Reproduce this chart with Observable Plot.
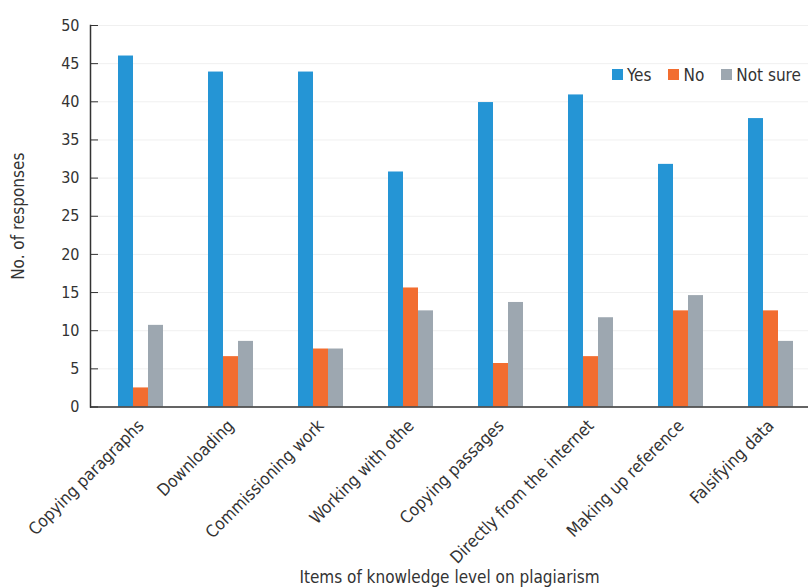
<!DOCTYPE html>
<html>
<head>
<meta charset="utf-8">
<script src="https://cdn.jsdelivr.net/npm/d3@7"></script>
<script src="https://cdn.jsdelivr.net/npm/@observablehq/plot@0.6"></script>
<style>
  html, body { margin: 0; padding: 0; background: #fff; }
  #wrap { position: relative; width: 810px; height: 588px; }
  #legend { position: absolute; left: 612px; top: 58px; width: 230px; white-space: nowrap; }
  #legend span > svg { margin-right: 4px !important; }
  .ff { font-family: "Liberation Sans Narrow", "DejaVu Sans Condensed", Roboto, sans-serif; }
</style>
</head>
<body>
<div id="wrap" class="ff"></div>
<script>
const categories = ["Copying paragraphs", "Downloading", "Commissioning work", "Working with othe",
  "Copying passages", "Directly from the internet", "Making up reference", "Falsifying data"];
const seriesNames = ["Yes", "No", "Not sure"];
const yesValues = [46, 43.9, 43.9, 30.8, 39.9, 40.9, 31.8, 37.8];
const noValues = [2.5, 6.6, 7.6, 15.6, 5.7, 6.6, 12.6, 12.6];
const notSureValues = [10.7, 8.6, 7.6, 12.6, 13.7, 11.7, 14.6, 8.6];
const yTicks = [0, 5, 10, 15, 20, 25, 30, 35, 40, 45, 50];
const colors = ["#2595d5", "#f26d30", "#9da7b0"];

const rows = (vals, s) => categories.map((c, i) => ({category: c, series: s, value: vals[i]}));
const yes = rows(yesValues, "Yes");
const no = rows(noValues, "No");
const ns = rows(notSureValues, "Not sure");

const font = '"Liberation Sans Narrow", "DejaVu Sans Condensed", Roboto, sans-serif';

const chart = Plot.plot({
  width: 810,
  height: 588,
  marginLeft: 90,
  marginRight: 2,
  marginTop: 25,
  marginBottom: 181.5,
  style: {fontFamily: font, fontSize: "17px", color: "#333", background: "#fff"},
  x: {domain: categories, range: [95.5, 815.5], paddingInner: 0.5, paddingOuter: 0.25, align: 0.5},
  y: {domain: [0, 50]},
  color: {domain: seriesNames, range: colors},
  marks: [
    Plot.gridY(yTicks, {stroke: "#f0f0f0", strokeOpacity: 1}),
    Plot.barY(yes, {x: "category", y: "value", fill: "series", insetLeft: 0, insetRight: 30}),
    Plot.barY(no, {x: "category", y: "value", fill: "series", insetLeft: 15, insetRight: 15}),
    Plot.barY(ns, {x: "category", y: "value", fill: "series", insetLeft: 30, insetRight: 0}),
    Plot.frame({anchor: "left", stroke: "#333", strokeWidth: 1.5}),
    Plot.ruleY([0], {stroke: "#333", strokeWidth: 1.5}),
    Plot.axisY({ticks: yTicks, tickSize: 0, tickPadding: 11, fontSize: 16, label: null}),
    Plot.axisY({ticks: yTicks, tickSize: -8, text: null, stroke: "#333", label: "No. of responses",
      labelAnchor: "center", labelOffset: 79, labelArrow: "none"}),
    Plot.axisX({tickSize: 0, tickPadding: 16, tickRotate: -45, fontSize: 17,
      label: "Items of knowledge level on plagiarism", labelAnchor: "center", labelOffset: 176, labelArrow: "none"})
  ]
});

document.getElementById("wrap").appendChild(chart);
const legend = Plot.legend({
  color: {domain: seriesNames, range: colors},
  legend: "swatches", swatchSize: 11, swatchWidth: 11, swatchHeight: 11,
  style: {fontFamily: font, fontSize: "17px", color: "#333"}
});
const ld = document.createElement("div");
ld.id = "legend";
ld.appendChild(legend);
document.getElementById("wrap").appendChild(ld);
</script>
</body>
</html>
